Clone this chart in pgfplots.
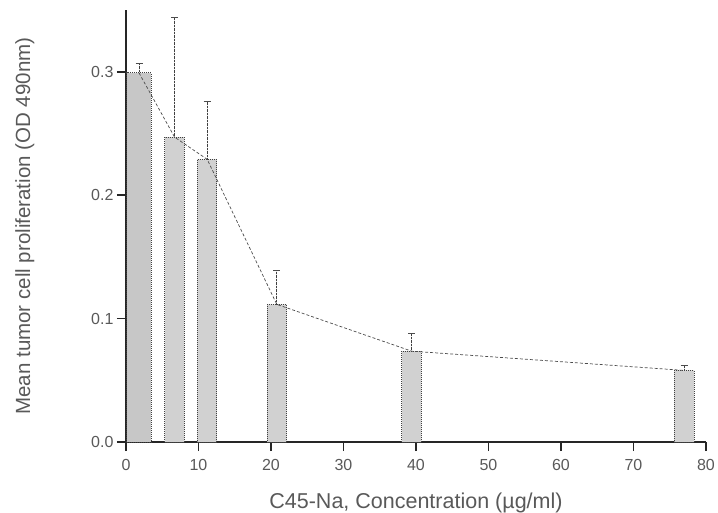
\documentclass[border=0pt]{standalone}
\usepackage{pgfplots}
\pgfplotsset{compat=1.18}
\usepackage{fontspec}
\setmainfont{Liberation Sans}
\begin{document}
\begin{tikzpicture}
\path[use as bounding box] (0,0) rectangle (718pt,512pt);
\begin{axis}[
  at={(126pt,70pt)}, anchor=south west,
  scale only axis, width=580pt, height=432pt,
  xmin=0, xmax=80, ymin=0, ymax=0.35,
  axis x line=bottom, axis y line=left,
  axis line style={line width=2.2pt, black!85, -},
  xtick={0,10,...,80}, ytick={0,0.1,0.2,0.3},
  yticklabel style={/pgf/number format/fixed, /pgf/number format/fixed zerofill, /pgf/number format/precision=1},
  /pgf/number format/assume math mode=true,
  tick align=outside, major tick length=9pt,
  tick style={line width=1.6pt, black!85},
  ticklabel style={font=\fontsize{16}{18}\selectfont, text=black!65},
  xticklabel style={yshift=-5pt},
  xlabel={C45-Na, Concentration (µg/ml)},
  ylabel={Mean tumor cell proliferation (OD 490nm)},
  xlabel style={font=\fontsize{21.5}{24}\selectfont, text=black!65, yshift=-15pt},
  ylabel style={font=\fontsize{20.5}{24}\selectfont, text=black!65, yshift=50pt},
  clip=false,
]
\addplot[ybar, bar width=3.4, bar shift=0, fill=black!22, draw=black!75, densely dotted, line width=1pt,
  error bars/.cd, y dir=plus, y explicit,
  error bar style={densely dotted, line width=0.9pt, black!75},
  error mark options={rotate=90, mark size=3.5pt, solid, line width=0.7pt, black!70}]
  coordinates {(1.8,0.299) +- (0,0.008)};
\addplot[ybar, bar width=2.7, bar shift=0, fill=black!18, draw=black!75, densely dotted, line width=1pt,
  error bars/.cd, y dir=plus, y explicit,
  error bar style={densely dotted, line width=0.9pt, black!75},
  error mark options={rotate=90, mark size=3.5pt, solid, line width=0.7pt, black!70}]
  coordinates {
  (6.7,0.247) +- (0,0.097)
  (11.2,0.229) +- (0,0.047)
  (20.8,0.1115) +- (0,0.0275)
  (39.4,0.0736) +- (0,0.0144)
  (77.0,0.058) +- (0,0.004)
  };
\addplot[black!70, densely dashed, line width=0.7pt, mark=none] coordinates {
  (1.8,0.299) (6.7,0.247) (11.2,0.229) (20.8,0.1115) (39.4,0.0736) (77.0,0.058)
};
\end{axis}
\end{tikzpicture}
\end{document}
